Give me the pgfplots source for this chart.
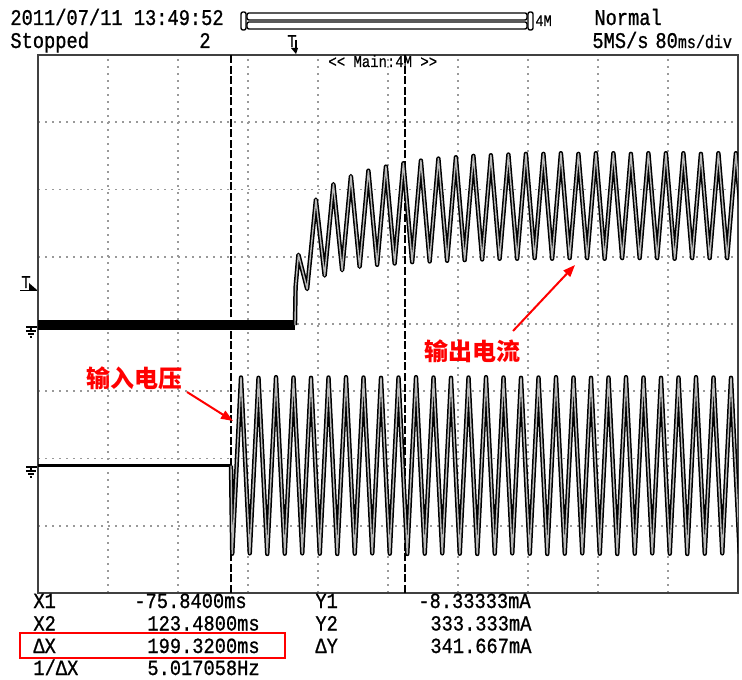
\documentclass[border=0pt]{standalone}
\usepackage{pgfplots}
\pgfplotsset{compat=1.18}
\usepackage{pgfplotstable}
\usepackage{fontspec}
\usetikzlibrary{arrows.meta}
\newfontfamily\scopefont[FakeStretch=0.835,FakeBold=0.9]{Liberation Mono}
\newfontfamily\rowfont[FakeStretch=0.866,FakeBold=0.9]{Liberation Mono}
\newfontfamily\smallscope[FakeStretch=0.85,FakeBold=0.5]{Liberation Mono}
\newfontfamily\cjk{Noto Sans CJK SC}
\newcommand\st[1]{{\fontsize{11.2}{13}\scopefont #1}}
\newcommand\rt[1]{{\fontsize{10.8}{12}\rowfont #1}}

% voltage trace (divisions)
\pgfplotstableread{
x y
2.757 1.895
2.775 0.585
2.900 3.205
3.025 0.590
3.150 3.200
3.275 0.580
3.400 3.210
3.525 0.585
3.650 3.205
3.775 0.590
3.900 3.200
4.025 0.585
4.150 3.205
4.275 0.580
4.400 3.210
4.525 0.585
4.650 3.205
4.775 0.590
4.900 3.200
5.025 0.585
5.150 3.205
5.275 0.580
5.400 3.210
5.525 0.585
5.650 3.205
5.775 0.590
5.900 3.200
6.025 0.585
6.150 3.205
6.275 0.580
6.400 3.210
6.525 0.585
6.650 3.205
6.775 0.590
6.900 3.200
7.025 0.585
7.150 3.205
7.275 0.580
7.400 3.210
7.525 0.585
7.650 3.205
7.775 0.590
7.900 3.200
8.025 0.585
8.150 3.205
8.275 0.580
8.400 3.210
8.525 0.585
8.650 3.205
8.775 0.590
8.900 3.200
9.025 0.585
9.150 3.205
9.275 0.580
9.400 3.210
9.525 0.585
9.650 3.205
9.775 0.590
9.900 3.200
10.025 0.585
}\volt

% current trace (divisions)
\pgfplotstableread{
x y
3.671 3.985
3.680 4.55
3.720 5.03
3.845 4.52
3.970 5.85
4.095 4.72
4.220 6.08
4.345 4.80
4.470 6.20
4.595 4.85
4.720 6.28
4.845 4.88
4.970 6.34
5.095 4.90
5.220 6.39
5.345 4.92
5.470 6.43
5.595 4.93
5.720 6.46
5.845 4.94
5.970 6.48
6.095 4.95
6.220 6.50
6.345 4.96
6.470 6.51
6.595 4.97
6.720 6.52
6.845 4.97
6.970 6.53
7.095 4.98
7.220 6.53
7.345 4.97
7.470 6.54
7.595 4.98
7.720 6.53
7.845 4.98
7.970 6.54
8.095 4.97
8.220 6.54
8.345 4.98
8.470 6.53
8.595 4.98
8.720 6.54
8.845 4.98
8.970 6.54
9.095 4.97
9.220 6.54
9.345 4.98
9.470 6.53
9.595 4.98
9.720 6.54
9.845 4.98
9.970 6.54
10.095 4.98
}\curr

\begin{document}
\begin{tikzpicture}
\useasboundingbox (0pt,0pt) rectangle (371pt,339.5pt);
\begin{axis}[
  at={(19pt,43pt)}, anchor=south west,
  scale only axis, width=350pt, height=269pt,
  xmin=0, xmax=10, ymin=0, ymax=8,
  xtick={1,...,9}, ytick={1,...,7},
  xticklabels={}, yticklabels={},
  major tick length=0pt,
  grid=major,
  grid style={gray!80, line width=0.9pt, dash pattern=on 0.9pt off 2.6pt},
  axis line style={black!75, line width=1.1pt},
  clip=true,
]
% cursors
\addplot[black, line width=0.8pt, dash pattern=on 4pt off 1.3pt] coordinates {(2.757,0) (2.757,8)};
\addplot[black, line width=0.8pt, dash pattern=on 4pt off 1.3pt] coordinates {(5.243,0) (5.243,8)};
% baselines
\addplot[black, line width=5pt] coordinates {(0,3.985) (3.671,3.985)};
\addplot[black, line width=1.6pt] coordinates {(0,1.895) (2.757,1.895)};
% traces
\addplot[black, line width=2.2pt, line join=round] table {\volt};
\addplot[gray!55, line width=0.7pt, line join=round] table {\volt};
\addplot[black, line width=2.2pt, line join=round] table {\curr};
\addplot[gray!55, line width=0.7pt, line join=round] table {\curr};
\end{axis}

\begin{scope}[x=0.5pt, y=-0.5pt, shift={(0pt,339.5pt)}]
% header
\node[anchor=base west, inner sep=0] at (10,25) {\st{2011/07/11 13:49:52}};
\node[anchor=base west, inner sep=0] at (10,48) {\st{Stopped}};
\node[anchor=base west, inner sep=0] at (199,48) {\st{2}};
\node[anchor=base west, inner sep=0] at (594,25) {\st{Normal}};
\node[anchor=base west, inner sep=0] at (592,48) {\st{5MS/s}};
\node[anchor=base west, inner sep=0] at (655,48) {\st{80{\fontsize{9}{10}\scopefont ms/div}}};
% record bar
\draw[line width=0.7pt, rounded corners=1pt] (241,12) rectangle (246,30);
\draw[line width=0.7pt, rounded corners=1pt] (247,13) rectangle (527,20);
\draw[line width=0.7pt, rounded corners=1pt] (247,22) rectangle (527,29);
\draw[line width=0.7pt, rounded corners=1pt] (528,12) rectangle (533,30);
\node[anchor=base west, inner sep=0] at (535,26) {{\fontsize{8}{9}\smallscope 4M}};
% trigger position mark
\node[anchor=base west, inner sep=0] at (287,47) {{\fontsize{9}{10}\smallscope T}};
\fill (291,48) -- (298,48) -- (296,54) -- cycle;
\draw[line width=0.7pt] (296,40) -- (296,50);
% main label
\node[anchor=base west, inner sep=0] at (328,67) {{\fontsize{8.2}{9}\smallscope << Main:4M >>}};
% trigger level mark
\node[anchor=base west, inner sep=0] at (21,288) {{\fontsize{9}{10}\smallscope T}};
\fill (29,283) -- (29,290) -- (37,290) -- cycle;
\draw[line width=0.7pt] (20,290.5) -- (37,290.5);
% ground marks
\foreach \g in {327,467} {
  \draw[line width=0.7pt] (26,\g) -- (37,\g);
  \draw[line width=0.7pt] (31,\g) -- (31,\g+4);
  \draw[line width=0.7pt] (26,\g+4) -- (36,\g+4);
  \draw[line width=0.7pt] (28,\g+7) -- (34,\g+7);
  \draw[line width=0.7pt] (30,\g+10) -- (32,\g+10);
}
% annotations
\node[anchor=west, inner sep=0, text=red] at (86,378) {\fontsize{12}{13}\cjk\bfseries 输入电压};
\node[anchor=west, inner sep=0, text=red] at (424,351) {\fontsize{12}{13}\cjk\bfseries 输出电流};
\draw[red, line width=1pt, -{Triangle[length=6pt,width=4.5pt]}] (187,392) -- (233,421);
\draw[red, line width=1pt, -{Triangle[length=6pt,width=4.5pt]}] (513,331) -- (575,265);
% measurements
\node[anchor=base west, inner sep=0] at (33,608) {\rt{X1}};
\node[anchor=base west, inner sep=0] at (134,608) {\rt{-75.8400ms}};
\node[anchor=base west, inner sep=0] at (315,608) {\rt{Y1}};
\node[anchor=base west, inner sep=0] at (418,608) {\rt{-8.33333mA}};
\node[anchor=base west, inner sep=0] at (33,630.5) {\rt{X2}};
\node[anchor=base west, inner sep=0] at (147,630.5) {\rt{123.4800ms}};
\node[anchor=base west, inner sep=0] at (315,630.5) {\rt{Y2}};
\node[anchor=base west, inner sep=0] at (430,630.5) {\rt{333.333mA}};
\node[anchor=base west, inner sep=0] at (33,653) {\rt{ΔX}};
\node[anchor=base west, inner sep=0] at (147,653) {\rt{199.3200ms}};
\node[anchor=base west, inner sep=0] at (315,653) {\rt{ΔY}};
\node[anchor=base west, inner sep=0] at (430,653) {\rt{341.667mA}};
\node[anchor=base west, inner sep=0] at (33,675) {\rt{1/ΔX}};
\node[anchor=base west, inner sep=0] at (147,675) {\rt{5.017058Hz}};
\draw[red, line width=1pt] (20,633) rectangle (285,658);
\end{scope}
\end{tikzpicture}
\end{document}
